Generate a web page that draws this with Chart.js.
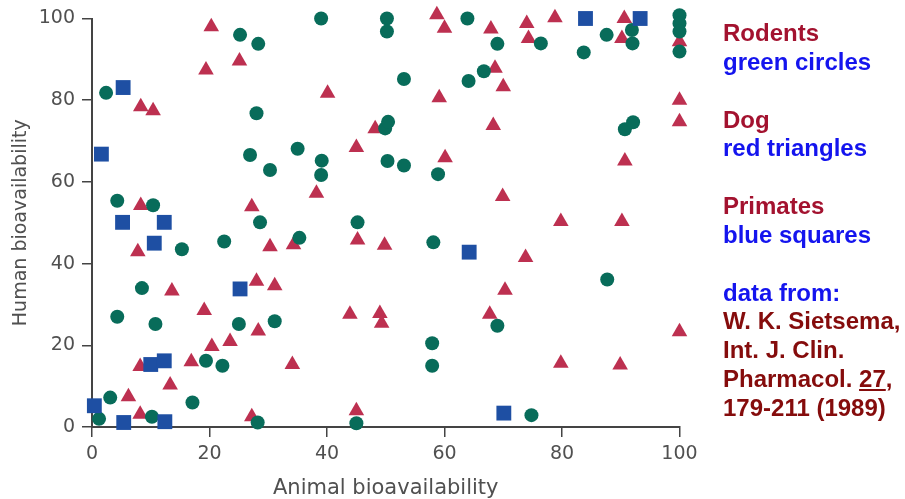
<!DOCTYPE html>
<html>
<head>
<meta charset="utf-8">
<script src="https://cdn.jsdelivr.net/npm/chart.js@4"></script>
<style>
  html, body { margin: 0; padding: 0; background: #fff; }
  #wrap { position: relative; width: 905px; height: 499px; overflow: hidden; }
  #chart { position: absolute; left: 0; top: 0; }
  #notes {
    position: absolute; left: 723px; top: 19px;
    font: bold 24px Arial, "Liberation Sans", sans-serif;
    line-height: 28.85px; white-space: nowrap;
  }
  .sp { color: #a3122f; }
  .mk { color: #1414ee; }
  .ref { color: #850c0c; }
</style>
</head>
<body>
<div id="wrap">
  <canvas id="chart" width="905" height="499"></canvas>
  <div id="notes">
    <div class="sp">Rodents</div>
    <div class="mk">green circles</div>
    <div>&nbsp;</div>
    <div class="sp">Dog</div>
    <div class="mk">red triangles</div>
    <div>&nbsp;</div>
    <div class="sp">Primates</div>
    <div class="mk">blue squares</div>
    <div>&nbsp;</div>
    <div class="mk">data from:</div>
    <div class="ref">W. K. Sietsema,</div>
    <div class="ref">Int. J. Clin.</div>
    <div class="ref">Pharmacol. <u>27</u>,</div>
    <div class="ref">179-211 (1989)</div>
  </div>
</div>
<script>
// [animal, human] bioavailability, %
var rodents = [
  [25.2, 96.0], [28.3, 93.8], [39.0, 100], [50.2, 100], [50.2, 96.8], [63.9, 100],
  [69.0, 93.8], [76.4, 93.9], [83.7, 91.7], [87.6, 96.0], [91.9, 97.2], [92.0, 93.9],
  [100, 100.8], [100, 98.8], [100, 96.8], [100, 91.9],
  [2.4, 81.8], [28.0, 76.8], [53.1, 85.2], [64.1, 84.7], [66.7, 87.1],
  [26.9, 66.6], [30.3, 62.9], [35.0, 68.1], [39.1, 65.2], [39.0, 61.7],
  [49.9, 73.1], [50.4, 74.7], [50.3, 65.1], [53.1, 64.0], [58.9, 61.9],
  [90.7, 72.9], [92.1, 74.6], [4.3, 55.4], [10.4, 54.3], [28.6, 50.1], [45.2, 50.1],
  [15.3, 43.5], [22.5, 45.4], [35.3, 46.3], [58.1, 45.2], [8.5, 34.0], [87.7, 36.1],
  [4.3, 27.0], [10.8, 25.2], [25.0, 25.2], [31.1, 25.9], [69.0, 24.8],
  [57.9, 20.5], [57.9, 15.0], [19.4, 16.2], [22.2, 15.0],
  [3.1, 7.2], [17.1, 6.0], [1.2, 2.0], [10.2, 2.5], [28.2, 1.1], [45.0, 0.9], [74.8, 2.9]
];
var dogs = [
  [20.3, 98.0], [25.1, 89.6], [19.4, 87.4], [58.7, 100.9], [60.0, 97.6], [67.9, 97.4],
  [74.0, 98.8], [74.3, 95.1], [78.8, 100.2], [90.6, 100], [90.2, 95.1], [100, 94.3],
  [8.3, 78.4], [10.4, 77.4], [40.1, 81.7], [59.1, 80.6], [68.6, 87.8], [70.0, 83.3],
  [100, 80.0], [100, 74.7], [45.0, 68.4], [48.2, 73.0], [68.3, 73.8], [60.1, 65.9],
  [90.7, 65.1], [38.2, 57.2], [69.9, 56.4], [8.3, 54.2], [27.2, 53.9],
  [79.8, 50.3], [90.2, 50.3], [7.8, 42.9], [30.3, 44.1], [34.3, 44.6], [45.2, 45.8],
  [49.8, 44.5], [73.8, 41.5], [13.6, 33.3], [28.0, 35.7], [31.1, 34.6], [70.3, 33.5],
  [19.1, 28.5], [28.3, 23.5], [43.9, 27.6], [49.0, 27.8], [49.3, 25.4], [67.7, 27.6],
  [100, 23.3], [20.4, 19.7], [23.5, 20.9], [16.9, 16.0], [8.2, 14.8], [34.1, 15.3],
  [79.8, 15.6], [89.9, 15.2], [13.3, 10.3], [6.2, 7.4], [8.2, 3.1], [27.2, 2.5], [45.0, 4.0]
];
var primates = [
  [5.3, 83.1], [1.6, 66.8], [84.0, 100], [93.3, 100], [5.2, 50.1], [12.3, 50.1],
  [10.6, 45.0], [25.2, 33.8], [64.2, 42.8], [10.0, 15.3], [12.3, 16.2],
  [0.4, 5.2], [5.4, 1.1], [12.4, 1.3], [70.1, 3.4]
];
var xTicks = [0, 20, 40, 60, 80, 100];
var yTicks = [0, 20, 40, 60, 80, 100];
var xTitle = 'Animal bioavailability';
var yTitle = 'Human bioavailability';

function pts(arr) {
  return arr.map(function(p) { return { x: p[0], y: p[1] }; });
}

var axisFont = { family: '"DejaVu Sans", sans-serif', size: 19 };

new Chart(document.getElementById('chart').getContext('2d'), {
  type: 'scatter',
  data: {
    datasets: [{
      label: 'Primates',
      data: pts(primates),
      pointStyle: 'rect',
      pointRadius: 10.5,
      backgroundColor: '#1e4fa3',
      borderColor: '#1e4fa3',
      borderWidth: 0,
      clip: false,
      order: 0
    }, {
      label: 'Rodents',
      data: pts(rodents),
      pointStyle: 'circle',
      pointRadius: 7,
      backgroundColor: '#086c5a',
      borderColor: '#086c5a',
      borderWidth: 0,
      clip: false,
      order: 1
    }, {
      label: 'Dog',
      data: pts(dogs),
      pointStyle: 'triangle',
      pointRadius: 9,
      backgroundColor: '#bd3050',
      borderColor: '#bd3050',
      borderWidth: 0,
      clip: false,
      order: 2
    }]
  },
  options: {
    responsive: false,
    animation: false,
    layout: { padding: { top: 18.5, right: 225.5, bottom: 0, left: 0 } },
    plugins: { legend: { display: false }, tooltip: { enabled: false } },
    scales: {
      x: {
        type: 'linear', min: 0, max: 100,
        afterBuildTicks: function(s) { s.ticks = xTicks.map(function(v) { return { value: v }; }); },
        afterFit: function(s) { s.height = 72; },
        grid: { display: true, drawOnChartArea: false, drawTicks: true, tickLength: 10, color: '#444', lineWidth: 1.5 },
        border: { display: true, color: '#444', width: 2 },
        ticks: { color: '#505050', font: axisFont, padding: 6, maxRotation: 0 },
        title: { display: true, text: xTitle, color: '#505050', font: { family: '"DejaVu Sans", sans-serif', size: 21 }, padding: { top: 0, bottom: -2 } }
      },
      y: {
        type: 'linear', min: 0, max: 100,
        afterBuildTicks: function(s) { s.ticks = yTicks.map(function(v) { return { value: v }; }); },
        afterFit: function(s) { s.width = 92; },
        grid: { display: true, drawOnChartArea: false, drawTicks: true, tickLength: 10, color: '#444', lineWidth: 1.5 },
        border: { display: true, color: '#444', width: 2 },
        ticks: { color: '#505050', font: axisFont, padding: 7 },
        title: { display: true, text: yTitle, color: '#505050', font: { family: '"DejaVu Sans", sans-serif', size: 19 }, padding: { top: 10, bottom: 0 } }
      }
    }
  }
});
</script>
</body>
</html>
